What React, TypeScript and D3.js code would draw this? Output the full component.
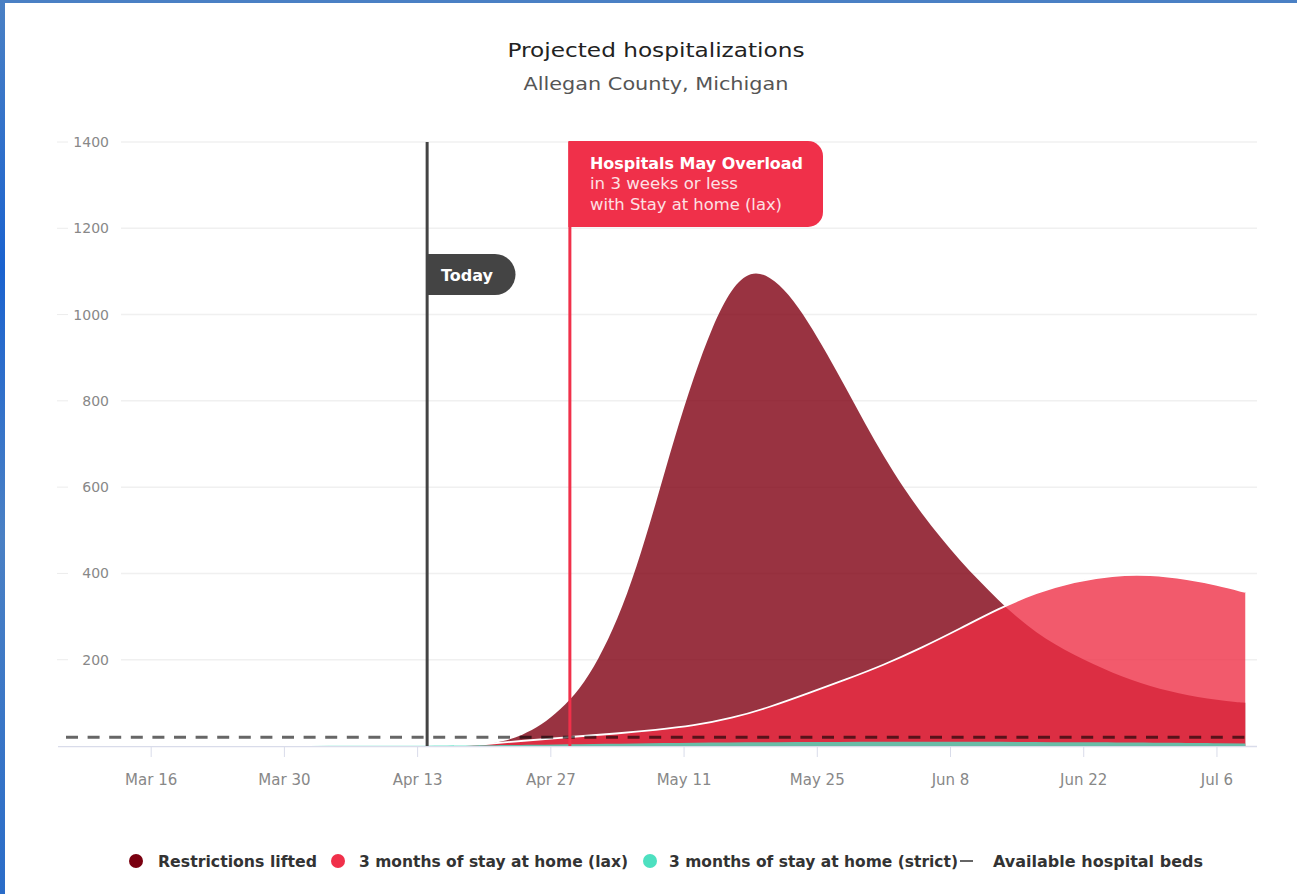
import React from "react";
import * as d3 from "d3";

const liftedDates = ["2020-03-06","2020-04-16","2020-04-18","2020-04-20","2020-04-22","2020-04-24","2020-04-26","2020-04-28","2020-04-30","2020-05-02","2020-05-04","2020-05-06","2020-05-08","2020-05-10","2020-05-12","2020-05-14","2020-05-16","2020-05-18","2020-05-20","2020-05-22","2020-05-24","2020-05-26","2020-05-28","2020-05-30","2020-06-01","2020-06-03","2020-06-05","2020-06-07","2020-06-09","2020-06-11","2020-06-13","2020-06-15","2020-06-17","2020-06-19","2020-06-21","2020-06-23","2020-06-25","2020-06-27","2020-06-29","2020-07-01","2020-07-03","2020-07-05","2020-07-07","2020-07-09"];
const liftedValues = [0,0,0,3,10,25,48,84,130,200,292,412,560,715,855,975,1063,1102,1090,1048,985,910,830,748,670,600,538,482,430,383,338,298,263,235,211,190,170,153,139,127,117,110,104,100];

const laxDates = ["2020-03-06","2020-04-17","2020-04-20","2020-04-24","2020-04-29","2020-05-04","2020-05-08","2020-05-12","2020-05-16","2020-05-20","2020-05-24","2020-05-28","2020-06-01","2020-06-05","2020-06-09","2020-06-13","2020-06-17","2020-06-21","2020-06-25","2020-06-29","2020-07-03","2020-07-06","2020-07-09"];
const laxValues = [0,0,4,12,21,29,37,47,64,90,122,154,188,228,272,318,356,382,396,398,387,374,357];

const strictDates = ["2020-03-06","2020-04-16","2020-04-25","2020-05-05","2020-05-20","2020-06-08","2020-06-22","2020-07-09"];
const strictValues = [0,0,3,6,9,10,9,6];

const bedsValue = 20;
const todayDate = "2020-04-14";
const overloadDate = "2020-04-29";

const yTicks = [200, 400, 600, 800, 1000, 1200, 1400];
const xTickDates = ["2020-03-16","2020-03-30","2020-04-13","2020-04-27","2020-05-11","2020-05-25","2020-06-08","2020-06-22","2020-07-06"];

const legendItems = [
  { label: "Restrictions lifted", color: "#7a0010" },
  { label: "3 months of stay at home (lax)", color: "#f0304a" },
  { label: "3 months of stay at home (strict)", color: "#4de0c0" },
];
const bedsLabel = "Available hospital beds";

const parse = (s: string) => { const [y, m, d] = s.split("-").map(Number); return new Date(y, m - 1, d); };
const fmt = d3.timeFormat("%b %-d");

export default function App() {
  const W = 1297, H = 894;
  const x = d3.scaleTime().domain([new Date(2020, 2, 6, 5), new Date(2020, 6, 10, 5)]).range([58, 1257]);
  const y = d3.scaleLinear().domain([0, 1400]).range([746, 142]);
  const curve = d3.curveBasis;
  const area = d3.area<[Date, number]>().x(d => x(d[0])).y0(y(0)).y1(d => y(Math.max(0, d[1]))).curve(curve);
  const line = d3.line<[Date, number]>().x(d => x(d[0])).y(d => y(d[1])).curve(curve);
  const lifted = liftedDates.map((d, i) => [parse(d), liftedValues[i]] as [Date, number]);
  const lax = laxDates.map((d, i) => [parse(d), laxValues[i]] as [Date, number]);
  const strict = strictDates.map((d, i) => [parse(d), strictValues[i]] as [Date, number]);
  const tx = x(parse(todayDate));
  const ox = x(parse(overloadDate));
  const font = "'DejaVu Sans', Verdana, sans-serif";
  const lastX = x(parse("2020-07-09"));
  return (
    <div style={{ position: "absolute", left: 0, top: 0 }}>
      <svg width={W} height={H} style={{ display: "block", fontFamily: font }}>
        <defs>
          <linearGradient id="lb" x1="0" y1="0" x2="0" y2="1">
            <stop offset="0" stopColor="#4a80c4" />
            <stop offset="0.3" stopColor="#1a62cf" />
            <stop offset="0.6" stopColor="#4a80c4" />
            <stop offset="1" stopColor="#2a6cc8" />
          </linearGradient>
          <clipPath id="clipData"><rect x={58} y={100} width={lastX - 58} height={646} /></clipPath>
        </defs>
        <rect x={0} y={0} width={W} height={H} fill="#fff" />
        <rect x={0} y={0} width={W} height={3} fill="#4a80c4" />
        <rect x={0} y={0} width={5} height={H} fill="url(#lb)" />
        <text x={656} y={57} textAnchor="middle" fontSize={20} fill="#222" textLength={297} lengthAdjust="spacingAndGlyphs">Projected hospitalizations</text>
        <text x={656} y={90} textAnchor="middle" fontSize={17} fill="#555" textLength={265} lengthAdjust="spacingAndGlyphs">Allegan County, Michigan</text>
        {yTicks.map(t => (
          <g key={t}>
            <line x1={57} x2={68} y1={y(t)} y2={y(t)} stroke="#ececec" />
            <line x1={121} x2={1257} y1={y(t)} y2={y(t)} stroke="#f0f0f0" strokeWidth={1.5} />
            <text x={109} y={y(t) + 5} textAnchor="end" fontSize={14} fill="#888">{t}</text>
          </g>
        ))}
        <line x1={58} x2={1257} y1={746.5} y2={746.5} stroke="#d9dcea" strokeWidth={1.5} />
        {xTickDates.map(s => {
          const d = parse(s);
          return (
            <g key={s}>
              <line x1={x(d)} x2={x(d)} y1={747} y2={757} stroke="#d9dcea" />
              <text x={x(d)} y={785} textAnchor="middle" fontSize={15} fill="#888">{fmt(d)}</text>
            </g>
          );
        })}
        <g clipPath="url(#clipData)">
          <path d={area(lifted) || ""} fill="#7f0012" fillOpacity={0.8} />
          <path d={area(lax) || ""} fill="#ee2e45" fillOpacity={0.79} />
          <path d={line(lax) || ""} fill="none" stroke="#fff" strokeWidth={1.8} />
          <path d={area(strict) || ""} fill="#4de0c0" fillOpacity={0.8} />
        </g>
        <line x1={66} x2={lastX} y1={y(bedsValue)} y2={y(bedsValue)} stroke="#000" strokeOpacity={0.6} strokeWidth={3} strokeDasharray="12,9.6" />
        <line x1={tx} x2={tx} y1={142} y2={746} stroke="#444" strokeWidth={3} />
        <path d={`M${tx},254 H495 A20.5,20.5 0 0 1 495,295 H${tx} Z`} fill="#444" />
        <text x={441} y={281} fontSize={16} fontWeight={700} fill="#fff" textLength={52} lengthAdjust="spacingAndGlyphs">Today</text>
        <line x1={ox} x2={ox} y1={142} y2={746} stroke="#f0304a" strokeWidth={3} />
        <path d={`M${ox - 1.5},141 H808 A15,15 0 0 1 823,156 V212 A15,15 0 0 1 808,227 H${ox - 1.5} Z`} fill="#f0304a" />
        <text x={590} y={169} fontSize={16} fontWeight={700} fill="#fff" textLength={213} lengthAdjust="spacingAndGlyphs">Hospitals May Overload</text>
        <text x={590} y={189} fontSize={15} fill="#fde0e4" textLength={148} lengthAdjust="spacingAndGlyphs">in 3 weeks or less</text>
        <text x={590} y={210} fontSize={15} fill="#fde0e4" textLength={192} lengthAdjust="spacingAndGlyphs">with Stay at home (lax)</text>
        <g fontSize={15} fontWeight={700} fill="#333">
          <circle cx={136} cy={861} r={7} fill={legendItems[0].color} />
          <text x={158} y={867} textLength={159} lengthAdjust="spacingAndGlyphs">{legendItems[0].label}</text>
          <circle cx={338} cy={861} r={7} fill={legendItems[1].color} />
          <text x={359} y={867} textLength={269} lengthAdjust="spacingAndGlyphs">{legendItems[1].label}</text>
          <circle cx={650} cy={861} r={7} fill={legendItems[2].color} />
          <text x={669} y={867} textLength={289} lengthAdjust="spacingAndGlyphs">{legendItems[2].label}</text>
          <line x1={960} x2={973} y1={861} y2={861} stroke="#333" strokeWidth={1.5} />
          <text x={993} y={867} textLength={210} lengthAdjust="spacingAndGlyphs">{bedsLabel}</text>
        </g>
      </svg>
    </div>
  );
}
